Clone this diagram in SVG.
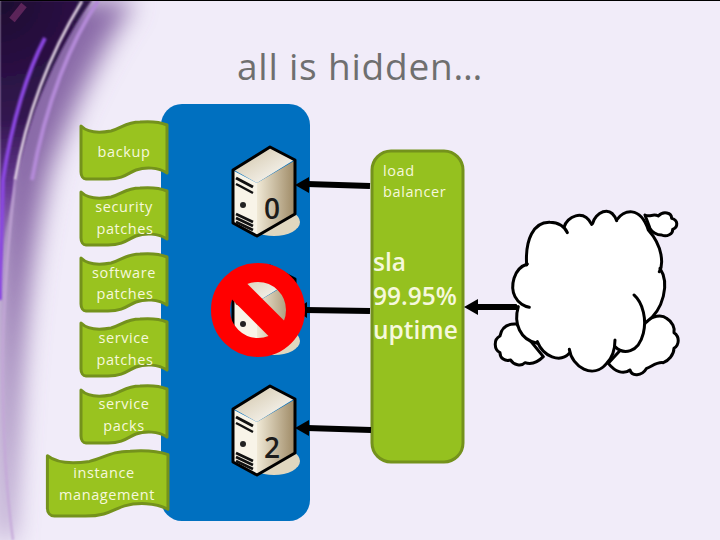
<svg xmlns="http://www.w3.org/2000/svg" xmlns:xlink="http://www.w3.org/1999/xlink" width="720" height="540" viewBox="0 0 720 540">
<style>
.flag{fill:#99c31f;stroke:#74921c;stroke-width:3;stroke-linejoin:round;vector-effect:non-scaling-stroke}
.ft{font-family:"Open Sans","Liberation Sans",sans-serif;font-size:14.5px;fill:#f6f8dc;text-anchor:middle;letter-spacing:.6px}
.big{font-family:"Open Sans","Liberation Sans",sans-serif;font-size:24.5px;font-weight:600;fill:#f6f8dc}
.num{font-family:"Open Sans","Liberation Sans",sans-serif;font-size:28px;font-weight:600;fill:#1c1c1c;text-anchor:middle}
.cl{fill:#fff;stroke:#000;stroke-width:9;stroke-linecap:round;stroke-linejoin:round}
.cs{fill:none;stroke:#000;stroke-width:9;stroke-linecap:round}
.conn{stroke:#000;stroke-width:6;fill:none}
</style>
<defs>
<path id="flagshape" class="flag" d="M1,5 C8,12 20,12 31,10 C42,7 46,1 60,1 C72,0 80,1 87,4 L87,52 C78,46 65,46 56,49 C48,52 44,58 28,58 L6,58 C3,58 1,55 1,51 Z"/>
<linearGradient id="side" x1="0" y1="0" x2="1" y2="0"><stop offset="0" stop-color="#f0e9d6"/><stop offset="1" stop-color="#a08c68"/></linearGradient>
<linearGradient id="top" x1="0" y1="0" x2="1" y2="1"><stop offset="0" stop-color="#cfc2a4"/><stop offset="1" stop-color="#fff"/></linearGradient>
<g id="server">
<ellipse cx="274" cy="222" rx="26" ry="14" fill="#e0d7bf"/>
<path d="M270,148 L234,170 L257,183 L294,160 Z" fill="url(#top)"/>
<path d="M257,183 L294,161 L294,214 L257,235 Z" fill="url(#side)"/>
<path d="M234,171 L257,183 L257,235 L234,223 Z" fill="#f8f4e8"/>
<path d="M233,170 L233,223 L257,236 L295,214 L295,160 L270,147 Z" fill="none" stroke="#000" stroke-width="3" stroke-linejoin="round"/>
<path d="M236,178 L253,187" stroke="#111" stroke-width="3"/>
<path d="M236,184 L240,186 M240,186 L253,193" stroke="#111" stroke-width="2.5"/>
<circle cx="243" cy="205" r="3" fill="#222"/>
<path d="M236,214 L253,222 M236,218 L253,226 M236,222 L253,230" stroke="#111" stroke-width="2.6"/>
</g>
<radialGradient id="dark" gradientUnits="userSpaceOnUse" cx="0" cy="0" r="240"><stop offset="0" stop-color="#1d0a30"/><stop offset=".5" stop-color="#331650"/><stop offset=".8" stop-color="#6a3c96"/><stop offset="1" stop-color="#9a78b8"/></radialGradient>
<filter id="b12" filterUnits="userSpaceOnUse" x="-60" y="-60" width="300" height="660"><feGaussianBlur stdDeviation="13"/></filter>
<filter id="b2" filterUnits="userSpaceOnUse" x="-20" y="-20" width="200" height="580"><feGaussianBlur stdDeviation="1"/></filter>
</defs>

<rect width="720" height="540" fill="#f1ecf9"/>
<g id="swoosh">
<path d="M0,0 H135 C100,50 72,110 50,170 C35,230 25,300 18,400 C15,450 12,500 10,540 H0 Z" fill="#8a6aa8" filter="url(#b12)"/>
<path d="M0,0 H92 C70,30 50,70 35,110 C25,140 15,180 8,220 C4,240 2,260 0,280 Z" fill="url(#dark)" filter="url(#b2)"/>
<path d="M98,1 C72,40 46,100 32,180" stroke="#b48ad8" stroke-width="4" fill="none" filter="url(#b2)"/>
<path d="M82,1 C55,45 28,105 15,180" stroke="#f0e2f0" stroke-width="2.5" fill="none" filter="url(#b2)"/>
<path d="M45,38 C28,70 12,120 3,180 C2,230 0,260 0,300" stroke="#8a46e0" stroke-width="4" fill="none" filter="url(#b2)"/>
<path d="M15,180 C10,230 6,260 3,340 C2,420 6,490 13,540" stroke="#c4a6d8" stroke-width="2" fill="none" filter="url(#b2)"/>
<path d="M12,20 L24,5" stroke="#6a2a62" stroke-width="7" opacity=".8"/>
</g>
<rect x="0" y="0" width="720" height="1" fill="#000"/>

<text id="title" x="360" y="80" font-family="'Open Sans','Liberation Sans',sans-serif" font-size="37" letter-spacing=".8" fill="#6f6f6f" text-anchor="middle">all is hidden…</text>

<rect id="cloud-service" x="161" y="104" width="149" height="417" rx="21" fill="#0070c0"/>

<g id="flags">
<g id="f-backup"><use xlink:href="#flagshape" href="#flagshape" transform="translate(80,121)"/><text class="ft" x="124" y="157">backup</text></g>
<g id="f-security"><use href="#flagshape" xlink:href="#flagshape" transform="translate(80,187)"/><text class="ft" x="124" y="212">security</text><text class="ft" x="125" y="234">patches</text></g>
<g id="f-software"><use href="#flagshape" xlink:href="#flagshape" transform="translate(80,253)"/><text class="ft" x="124" y="278">software</text><text class="ft" x="125" y="299">patches</text></g>
<g id="f-service"><use href="#flagshape" xlink:href="#flagshape" transform="translate(80,318)"/><text class="ft" x="124" y="343">service</text><text class="ft" x="125" y="365">patches</text></g>
<g id="f-packs"><use href="#flagshape" xlink:href="#flagshape" transform="translate(80,385)"/><text class="ft" x="124" y="409">service</text><text class="ft" x="124" y="431">packs</text></g>
<g id="f-instance"><use href="#flagshape" xlink:href="#flagshape" transform="translate(46,450) scale(1.402,1.14)"/><text class="ft" x="104" y="478">instance</text><text class="ft" x="107" y="500">management</text></g>
</g>

<g id="lb">
<rect x="372" y="151" width="91" height="311" rx="19" fill="#95c11f" stroke="#74921c" stroke-width="3"/>
<text class="ft" x="383" y="176" style="text-anchor:start">load</text>
<text class="ft" x="383" y="197" style="text-anchor:start">balancer</text>
<text class="big" x="373" y="271">sla</text>
<text class="big" x="373" y="305">99.95%</text>
<text class="big" x="373" y="339">uptime</text>
</g>

<g id="connectors">
<path class="conn" d="M307,184 L370,186"/><path d="M295,185 L309,177 L309,193 Z"/>
<path class="conn" d="M305,310 L370,311"/><path d="M295,310 L307,302 L307,318 Z"/>
<path class="conn" d="M307,428 L371,430"/><path d="M295,428 L309,420 L309,436 Z"/>
<path class="conn" d="M476,307 L522,307"/><path d="M464,307 L478,299 L478,315 Z"/>
</g>

<g id="server0"><use href="#server" xlink:href="#server"/><text class="num" x="272" y="219">0</text></g>
<g id="server1"><use href="#server" xlink:href="#server" transform="translate(0,119)"/></g>
<g id="no-sign">
<circle cx="258" cy="310" r="37.5" fill="none" stroke="#f00" stroke-width="19"/>
<path d="M232,284 L284,336" stroke="#f00" stroke-width="22"/>
</g>
<g id="server2"><use href="#server" xlink:href="#server" transform="translate(0,239)"/><text class="num" x="272" y="458">2</text></g>

<g id="cloud" transform="translate(450,190) scale(.3333)">
<path class="cl" d="M585,75 C600,82 610,70 625,78 C640,62 665,68 665,85 C685,90 685,112 668,118 C670,132 650,142 635,135 C620,135 605,125 600,115 Z"/>
<path class="cl" d="M200,402 C170,400 155,412 150,438 C130,448 132,480 150,488 C150,505 165,515 182,510 C190,525 215,530 225,518 C245,525 265,515 280,500 Z"/>
<path class="cl" d="M590,395 C605,378 635,372 650,385 C668,395 675,415 672,428 C690,440 688,465 672,475 C672,495 655,512 640,518 C620,515 605,530 590,535 C575,560 545,560 540,540 C520,555 495,545 475,520 Z"/>
<path d="M230,225 C225,150 250,95 300,97 C320,97 335,105 342,112 C350,80 400,55 428,100 C435,70 480,40 500,90 C520,60 570,45 595,120 C640,170 640,225 630,240 C660,280 640,360 590,395 L580,430 C565,490 520,495 495,470 C490,510 470,520 470,520 C430,570 365,530 358,490 C330,520 280,500 262,460 C210,450 190,400 205,350 C180,320 180,235 232,228 Z" fill="#fff"/>
<path class="cs" d="M230,225 C225,150 250,95 300,97 C325,97 345,110 352,128"/>
<path class="cs" d="M342,112 C350,80 400,55 425,103"/>
<path class="cs" d="M428,100 C435,70 480,40 500,92"/>
<path class="cs" d="M500,90 C520,60 570,45 595,120 C640,170 640,225 628,245"/>
<path class="cs" d="M630,235 C660,280 640,360 590,395"/>
<path class="cs" d="M552,315 C580,340 590,390 580,430 C565,490 520,495 495,470"/>
<path class="cs" d="M495,450 C495,470 490,500 470,520 C430,570 365,530 358,478"/>
<path class="cs" d="M358,490 C330,520 280,500 262,455"/>
<path class="cs" d="M262,460 C210,450 190,400 205,350"/>
<path class="cs" d="M232,222 C190,235 180,290 195,320 C205,340 225,350 238,352"/>
</g>
</svg>
